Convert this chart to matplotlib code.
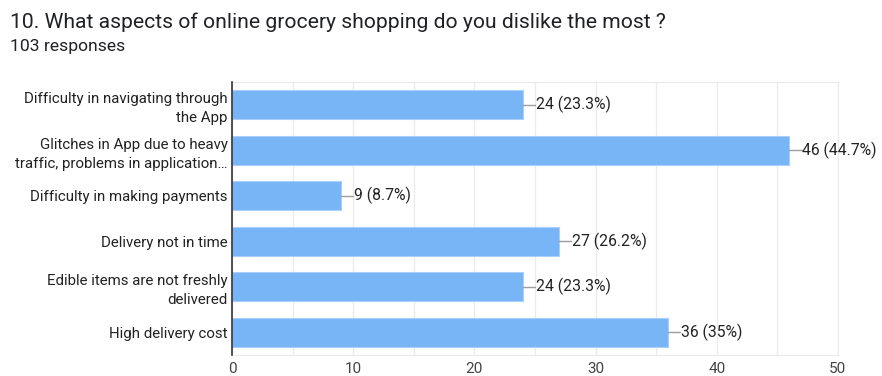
import matplotlib.pyplot as plt

categories = ["Difficulty in navigating through\nthe App",
              "Glitches in App due to heavy\ntraffic, problems in application\u2026",
              "Difficulty in making payments",
              "Delivery not in time",
              "Edible items are not freshly\ndelivered",
              "High delivery cost"]
counts = [24, 46, 9, 27, 24, 36]
labels = ["24 (23.3%)", "46 (44.7%)", "9 (8.7%)", "27 (26.2%)", "24 (23.3%)", "36 (35%)"]
xticks = [0, 10, 20, 30, 40, 50]

plt.rcParams['font.family'] = ['Roboto', 'DejaVu Sans']

fig = plt.figure(figsize=(8.82, 3.76), dpi=100)
ax = fig.add_axes([0.263, 0.056, 0.687, 0.726])

ypos = list(range(len(categories)))
ax.barh(ypos, counts, height=0.63, color='#77b5f7', edgecolor='#a9cffa', linewidth=0.8, zorder=3)

for y, v, lab in zip(ypos, counts, labels):
    ax.plot([v, v + 1.0], [y, y], color='#9e9e9e', lw=1, zorder=3)
    ax.text(v + 1.05, y, lab, va='center', ha='left', fontsize=11.3, color='#222222')

ax.set_xlim(0, 50)
ax.set_ylim(len(categories) - 0.5, -0.5)
ax.set_yticks(ypos)
ax.set_yticklabels(categories, fontsize=10.8, color='#222222', linespacing=1.45)
ax.set_xticks(xticks)
ax.set_xticks(range(5, 50, 10), minor=True)
ax.tick_params(axis='x', which='both', length=0, labelsize=11, labelcolor='#444444', pad=5)
ax.tick_params(axis='y', length=0, pad=3)
ax.grid(axis='x', which='both', color='#ebebeb', lw=1, zorder=0)

for s in ['top', 'right', 'bottom']:
    ax.spines[s].set_color('#ebebeb')
ax.spines['left'].set_color('#333333')
ax.spines['left'].set_linewidth(1.2)
ax.spines['left'].set_zorder(4)

fig.text(0.011, 0.94, "10. What aspects of online grocery shopping do you dislike the most ?",
         fontsize=15.2, color='#202124', va='center')
fig.text(0.011, 0.877, "103 responses", fontsize=12.6, color='#202124', va='center')

fig.savefig('out.png', dpi=100)
